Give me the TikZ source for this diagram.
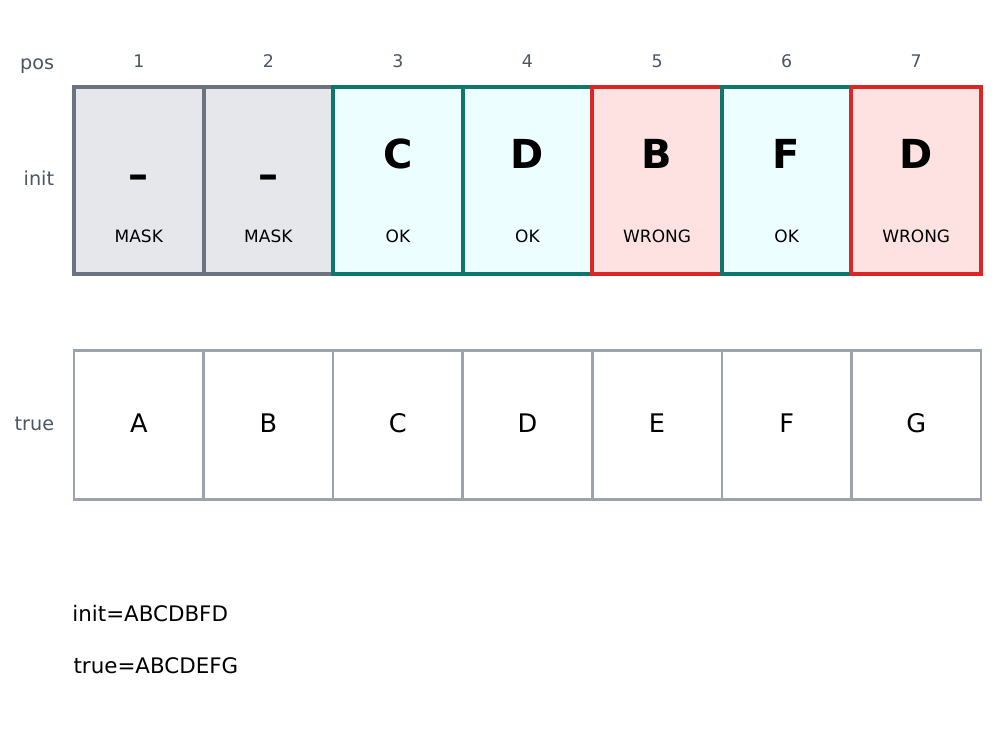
\documentclass[tikz,border=0pt]{standalone}
\usepackage{fontspec}
\setmainfont{DejaVu Sans}
\definecolor{lbl}{HTML}{4B5563}
\definecolor{maskfill}{HTML}{E5E7EB}
\definecolor{maskdraw}{HTML}{6B7280}
\definecolor{okfill}{HTML}{ECFEFF}
\definecolor{okdraw}{HTML}{0F766E}
\definecolor{badfill}{HTML}{FEE2E2}
\definecolor{baddraw}{HTML}{DC2626}
\definecolor{truedraw}{HTML}{9CA3AF}
\tikzset{
  rowlabel/.style={anchor=base east, text=lbl, font=\fontsize{19.2}{22}\selectfont, inner sep=0pt},
  poslabel/.style={anchor=base, text=lbl, font=\fontsize{17.4}{20}\selectfont, inner sep=0pt},
  bigletter/.style={anchor=base, font=\fontsize{40}{44}\bfseries\selectfont, inner sep=0pt},
  tag/.style={anchor=base, font=\fontsize{17}{20}\selectfont, inner sep=0pt},
  trueletter/.style={anchor=base, font=\fontsize{25.6}{28}\selectfont, inner sep=0pt},
  summary/.style={anchor=base west, font=\fontsize{21.4}{24}\selectfont, inner sep=0pt},
  maskbox/.style={fill=maskfill, draw=maskdraw, line width=4pt},
  okbox/.style={fill=okfill, draw=okdraw, line width=4pt},
  badbox/.style={fill=badfill, draw=baddraw, line width=4pt},
  truebox/.style={fill=white, draw=truedraw, line width=2.5pt},
}
\begin{document}
\begin{tikzpicture}[x=1pt, y=-1pt]
\useasboundingbox (0,0) rectangle (996,737);
\def\cellw{129.57}
% row labels
\node[rowlabel] (lpos) at (54.3,69.6) {pos};
\node[rowlabel] (linit) at (54.3,185.8) {init};
\node[rowlabel] (ltrue) at (54.3,430.3) {true};
% init row
\foreach \i/\st/\tg in {1/maskbox/MASK, 2/maskbox/MASK, 3/okbox/OK, 4/okbox/OK, 5/badbox/WRONG, 6/okbox/OK, 7/badbox/WRONG}{
  \pgfmathsetmacro{\xa}{74+(\i-1)*\cellw}
  \pgfmathsetmacro{\xb}{74+\i*\cellw}
  \pgfmathsetmacro{\xc}{74+(\i-0.5)*\cellw}
  \draw[\st] (\xa,87) rectangle (\xb,273.7);
  \node[poslabel] (p\i) at (\xc,67.7) {\i};
  \node[tag] (t\i) at (\xc,242) {\tg};
}
\foreach \i/\ch in {3/C, 4/D, 5/B, 6/F, 7/D}{
  \pgfmathsetmacro{\xc}{74+(\i-0.5)*\cellw}
  \node[bigletter] (c\i) at (\xc,168.5) {\ch};
}
\foreach \i in {1,2}{
  \pgfmathsetmacro{\xc}{74+(\i-0.5)*\cellw}
  \node[bigletter] (c\i) at (\xc,188.5) {–};
}
% true row
\foreach \i/\ch in {1/A, 2/B, 3/C, 4/D, 5/E, 6/F, 7/G}{
  \pgfmathsetmacro{\xa}{74+(\i-1)*\cellw}
  \pgfmathsetmacro{\xb}{74+\i*\cellw}
  \pgfmathsetmacro{\xc}{74+(\i-0.5)*\cellw}
  \draw[truebox] (\xa,350.3) rectangle (\xb,499.3);
  \node[trueletter] (u\i) at (\xc,432.7) {\ch};
}
% summary
\node[summary] (s1) at (72.2,621.7) {init=ABCDBFD};
\node[summary] (s2) at (73.4,673.3) {true=ABCDEFG};
\end{tikzpicture}
\end{document}
